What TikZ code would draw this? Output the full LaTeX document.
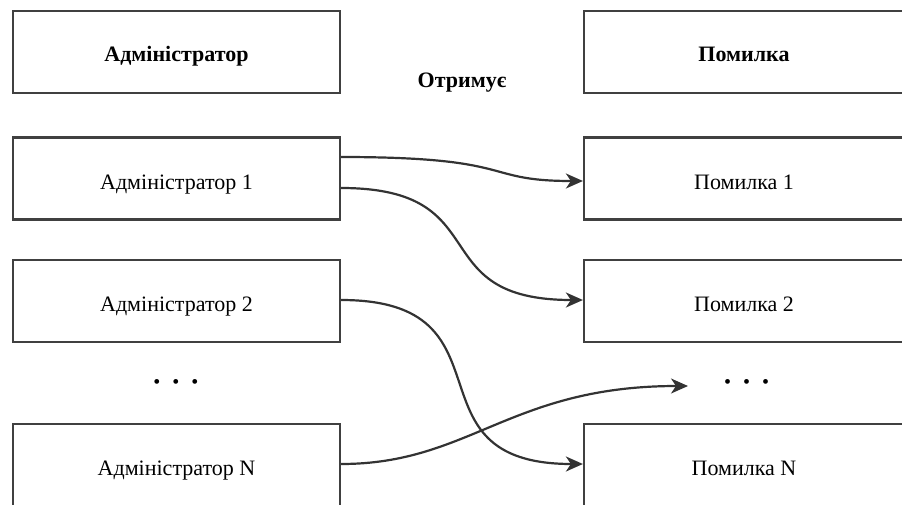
\documentclass[tikz,border=0pt]{standalone}
\usepackage{fontspec}
\setmainfont{Liberation Serif}
\usetikzlibrary{arrows.meta}
\begin{document}
\begin{tikzpicture}[x=1pt,y=-1pt,
  box/.style={draw=black!75,line width=2.2pt,minimum width=327pt,minimum height=82pt,inner sep=0pt,text height=21pt,text depth=0pt,font=\fontsize{22}{26}\selectfont},
  hbox/.style={box,text height=19pt,font=\fontsize{22}{26}\selectfont\bfseries},
  rwide/.style={minimum width=320pt},
  hdr/.style={font=\fontsize{22}{26}\selectfont\bfseries},
  dotsnode/.style={inner sep=0pt,font=\fontsize{20}{24}\selectfont},
  conn/.style={draw=black!80,line width=2.2pt,-{Stealth[length=17pt,width=15pt,inset=5pt]}}]
\useasboundingbox (0,0) rectangle (902,504);
\clip (0,0) rectangle (902,504);
\node[hbox] (ah) at (176.5,52) {Адміністратор};
\node[box] (a1) at (176.5,178.5) {Адміністратор 1};
\node[box] (a2) at (176.5,301) {Адміністратор 2};
\node[box] (an) at (176.5,465) {Адміністратор N};
\node[hbox,rwide] (ph) at (744,52) {Помилка};
\node[box,rwide] (p1) at (744,178.5) {Помилка 1};
\node[box,rwide] (p2) at (744,301) {Помилка 2};
\node[box,rwide] (pn) at (744,465) {Помилка N};
\node[hdr] (rel) at (462,83) {Отримує};
\node[dotsnode] (ld) at (176,384) {•\hspace{12pt}•\hspace{12pt}•};
\node[dotsnode] (rd) at (746.5,384) {•\hspace{12pt}•\hspace{12pt}•};
\coordinate (rdend) at (688,386);
\draw[conn] (a1.east |- 0,157) .. controls (520,157) and (480,181) .. (p1.west |- 0,181);
\draw[conn] (a1.east |- 0,188) .. controls (500,188) and (420,300) .. (p2.west |- 0,300);
\draw[conn] (a2.east |- 0,300) .. controls (520,300) and (400,464) .. (pn.west |- 0,464);
\draw[conn] (an.east |- 0,464) .. controls (470,464) and (510,386) .. (rdend);
\end{tikzpicture}
\end{document}
